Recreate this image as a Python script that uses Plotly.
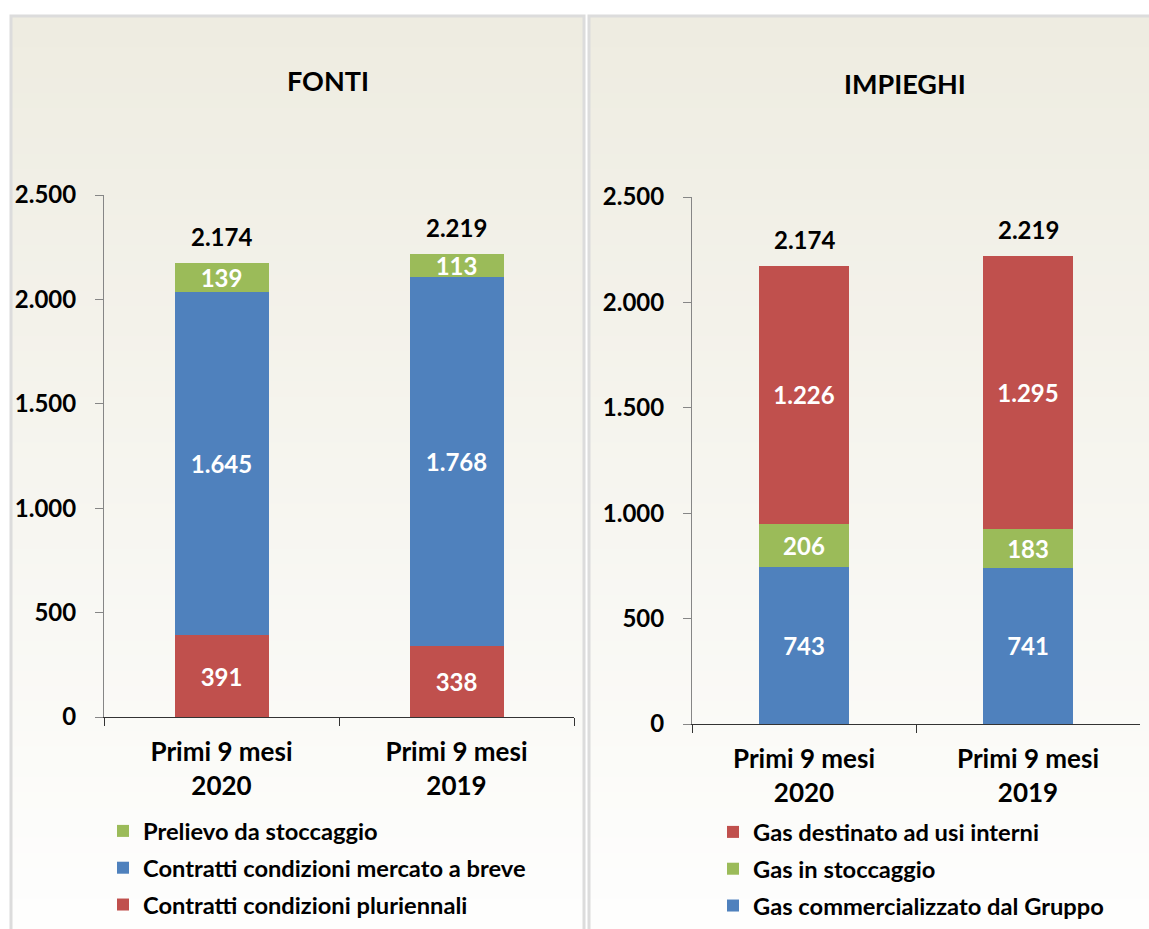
import plotly.graph_objects as go

# ---------------- data ----------------
categories = ["Primi 9 mesi<br>2020", "Primi 9 mesi<br>2019"]

# FONTI (stack bottom -> top)
fonti_pluriennali = [391, 338]
fonti_mercato_breve = [1645, 1768]
fonti_prelievo = [139, 113]
fonti_totali = [2174, 2219]

# IMPIEGHI (stack bottom -> top)
imp_commercializzato = [743, 741]
imp_stoccaggio = [206, 183]
imp_usi_interni = [1226, 1295]
imp_totali = [2174, 2219]

y_ticks = [0, 500, 1000, 1500, 2000, 2500]

# ---------------- style ----------------
W, H = 1149, 929
BLUE = "#4F81BD"
RED = "#C0504D"
GREEN = "#9BBB59"
FONT = "Lato"


def px(x):
    return x / W


def py(y):
    return 1 - y / H


def fmt(v):
    return f"{v:,}".replace(",", ".")


fig = go.Figure()


def add_bar(name, vals, color, xa, ya, legend, rank):
    fig.add_trace(go.Bar(
        x=categories, y=vals, name=name,
        marker=dict(color=color, line=dict(width=0)),
        width=0.4,
        text=[fmt(v) for v in vals],
        textposition="inside", insidetextanchor="middle",
        constraintext="none", textangle=0,
        textfont=dict(color="white", size=24, family=FONT, weight="bold"),
        xaxis=xa, yaxis=ya, legend=legend, legendgroup=name, legendrank=rank,
        hoverinfo="skip",
    ))


add_bar("Contratti condizioni pluriennali", fonti_pluriennali, RED, "x", "y", "legend", 3)
add_bar("Contratti condizioni mercato a breve", fonti_mercato_breve, BLUE, "x", "y", "legend", 2)
add_bar("Prelievo da stoccaggio", fonti_prelievo, GREEN, "x", "y", "legend", 1)

add_bar("Gas commercializzato dal Gruppo", imp_commercializzato, BLUE, "x2", "y2", "legend2", 3)
add_bar("Gas in stoccaggio", imp_stoccaggio, GREEN, "x2", "y2", "legend2", 2)
add_bar("Gas destinato ad usi interni", imp_usi_interni, RED, "x2", "y2", "legend2", 1)

# totals above bars
annotations = []
for xa, ya, tots in (("x", "y", fonti_totali), ("x2", "y2", imp_totali)):
    for c, t in zip(categories, tots):
        annotations.append(dict(
            x=c, y=t, xref=xa, yref=ya, text=fmt(t), showarrow=False,
            yanchor="bottom", yshift=10,
            font=dict(size=24, color="black", family=FONT, weight="bold"),
        ))

# titles
annotations.append(dict(x=px(328), y=py(80), xref="paper", yref="paper", text="FONTI",
                        showarrow=False, xanchor="center", yanchor="middle",
                        font=dict(size=27, color="black", family=FONT, weight="bold")))
annotations.append(dict(x=px(905), y=py(83), xref="paper", yref="paper", text="IMPIEGHI",
                        showarrow=False, xanchor="center", yanchor="middle",
                        font=dict(size=27, color="black", family=FONT, weight="bold")))

# background panels: gradient bands + border
shapes = []
TOP = (238, 236, 225)
BOT = (254, 254, 253)
N = 60
y_top, y_bot = 17, 929
for (x0, x1) in ((11, 584), (589, 1160)):
    for i in range(N):
        t = i / (N - 1)
        col = tuple(round(TOP[k] + (BOT[k] - TOP[k]) * t) for k in range(3))
        ya0 = y_top + (y_bot - y_top) * i / N
        ya1 = y_top + (y_bot - y_top) * (i + 1) / N + 1
        shapes.append(dict(type="rect", xref="paper", yref="paper", layer="below",
                           x0=px(x0), x1=px(x1), y0=py(ya0), y1=py(min(ya1, H)),
                           fillcolor=f"rgb{col}", line=dict(width=0)))
    shapes.append(dict(type="rect", xref="paper", yref="paper", layer="below",
                       x0=px(x0), x1=px(x1), y0=py(16), y1=py(940),
                       fillcolor="rgba(0,0,0,0)", line=dict(color="#DCDCDC", width=3)))

tickfont = dict(size=24, color="black", family=FONT, weight="bold")
xtickfont = dict(size=26, color="black", family=FONT, weight="bold")


def yaxis_cfg(dom, anchor):
    return dict(domain=dom, anchor=anchor, range=[0, 2500], tickvals=y_ticks, tickformat=",",
                showgrid=False, zeroline=False, showline=True, linecolor="#868686",
                linewidth=1, ticks="outside", ticklen=8, tickcolor="#868686",
                tickfont=tickfont, ticklabelstandoff=14, fixedrange=True,
                automargin=False)


def xaxis_cfg(dom, anchor):
    return dict(domain=dom, anchor=anchor, showgrid=False, zeroline=False,
                showline=True, linecolor="#333333", linewidth=1,
                ticks="outside", tickson="boundaries", ticklen=8, tickcolor="#333333",
                tickfont=xtickfont, ticklabelstandoff=12, range=[-0.5, 1.5],
                fixedrange=True, automargin=False)


legend_font = dict(size=23.7, color="black", family=FONT, weight="bold")

fig.update_layout(
    width=W, height=H, autosize=False,
    margin=dict(l=0, r=0, t=0, b=0, pad=0, autoexpand=False),
    paper_bgcolor="white", plot_bgcolor="rgba(0,0,0,0)",
    separators=",.",
    barmode="stack",
    font=dict(family=FONT, weight="bold", color="black"),
    xaxis=xaxis_cfg([px(104), px(574)], "y"),
    yaxis=yaxis_cfg([py(717), py(195)], "x"),
    xaxis2=xaxis_cfg([px(692), px(1140)], "y2"),
    yaxis2=yaxis_cfg([py(724), py(197)], "x2"),
    legend=dict(x=px(103), y=py(809), xanchor="left", yanchor="top",
                traceorder="grouped", tracegroupgap=3,
                bgcolor="rgba(0,0,0,0)", font=legend_font),
    legend2=dict(x=px(713), y=py(810), xanchor="left", yanchor="top",
                 traceorder="grouped", tracegroupgap=3,
                 bgcolor="rgba(0,0,0,0)", font=legend_font),
    showlegend=True,
    annotations=annotations,
    shapes=shapes,
)

post = ("document.body.style.margin='0';document.body.style.padding='0';"
        "document.body.style.overflow='hidden';"
        "document.documentElement.style.overflow='hidden';")

fig.write_html("out.html", config={"displayModeBar": False}, post_script=post)
